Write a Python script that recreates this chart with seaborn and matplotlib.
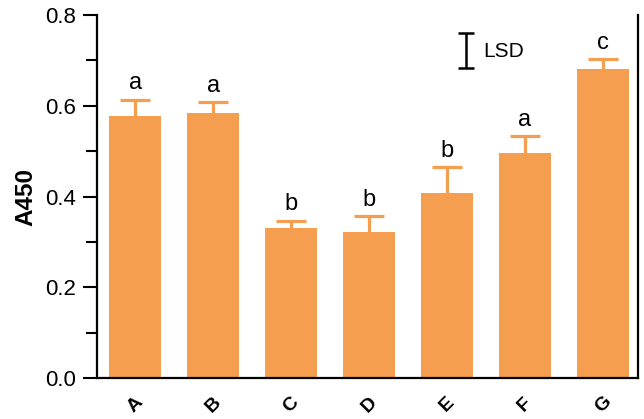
import numpy as np
import pandas as pd
import matplotlib
matplotlib.use("Agg")
import matplotlib.pyplot as plt
import seaborn as sns

# bar heights, upper error and significance letters
groups = ["A", "B", "C", "D", "E", "F", "G"]
a450 = [0.577, 0.583, 0.331, 0.322, 0.408, 0.495, 0.680]
err = [0.036, 0.025, 0.016, 0.034, 0.057, 0.038, 0.022]
letters = ["a", "a", "b", "b", "b", "a", "c"]

# LSD reference bar
lsd_x = 4.24
lsd_y = 0.7215
lsd_half = 0.0385

orange = "#F69E4F"

sns.set_style("ticks", {"text.color": "black", "axes.labelcolor": "black",
                        "xtick.color": "black", "ytick.color": "black"})
plt.rcParams["font.family"] = ["Liberation Sans", "DejaVu Sans"]

df = pd.DataFrame({"group": groups, "A450": a450})

fig = plt.figure(figsize=(6.44, 4.19), dpi=100)
ax = fig.add_axes([0.1506, 0.0978, 0.8401, 0.8664])

sns.barplot(data=df, x="group", y="A450", color=orange, saturation=1,
            width=0.667, errorbar=None, linewidth=0, ax=ax)
_, caps, _ = ax.errorbar(np.arange(len(groups)), a450,
                         yerr=[np.zeros(len(err)), err],
                         fmt="none", ecolor=orange, elinewidth=2.3,
                         capsize=10.5, capthick=2.3, zorder=1)
# only keep the upper caps
for c in caps:
    if np.allclose(c.get_ydata(), a450):
        c.set_visible(False)

for i, (v, e, t) in enumerate(zip(a450, err, letters)):
    ax.text(i, v + e + 0.012, t, ha="center", va="bottom", fontsize=17, color="black")

# LSD marker
ax.errorbar([lsd_x], [lsd_y], yerr=[lsd_half], fmt="none", ecolor="black",
            elinewidth=1.8, capsize=5.5, capthick=1.8)
ax.text(lsd_x + 0.22, lsd_y - 0.003, "LSD", ha="left", va="center",
        fontsize=15, color="black")

ax.set_xlim(-0.49, 6.45)
ax.set_ylim(0, 0.8)
ax.set_yticks([0, 0.2, 0.4, 0.6, 0.8])
ax.set_yticks([0.1, 0.3, 0.5, 0.7], minor=True)
ax.set_yticklabels(["0.0", "0.2", "0.4", "0.6", "0.8"], fontsize=16)
ax.tick_params(axis="y", which="major", length=10, width=1.5, direction="out", pad=5)
ax.tick_params(axis="y", which="minor", length=8, width=1.5, direction="out")
for lab in ax.get_xticklabels():
    lab.set_rotation(45)
    lab.set_fontweight("bold")
    lab.set_fontsize(14)
    lab.set_ha("center")
    lab.set_va("center")
ax.tick_params(axis="x", length=0, pad=19)

ax.set_xlabel("")
ax.set_ylabel("A450", fontsize=17.5, fontweight="bold", labelpad=6, color="black")

ax.spines["top"].set_visible(False)
for s in ["left", "bottom", "right"]:
    ax.spines[s].set_linewidth(1.6)
    ax.spines[s].set_color("black")

fig.savefig("out.png", dpi=100)
